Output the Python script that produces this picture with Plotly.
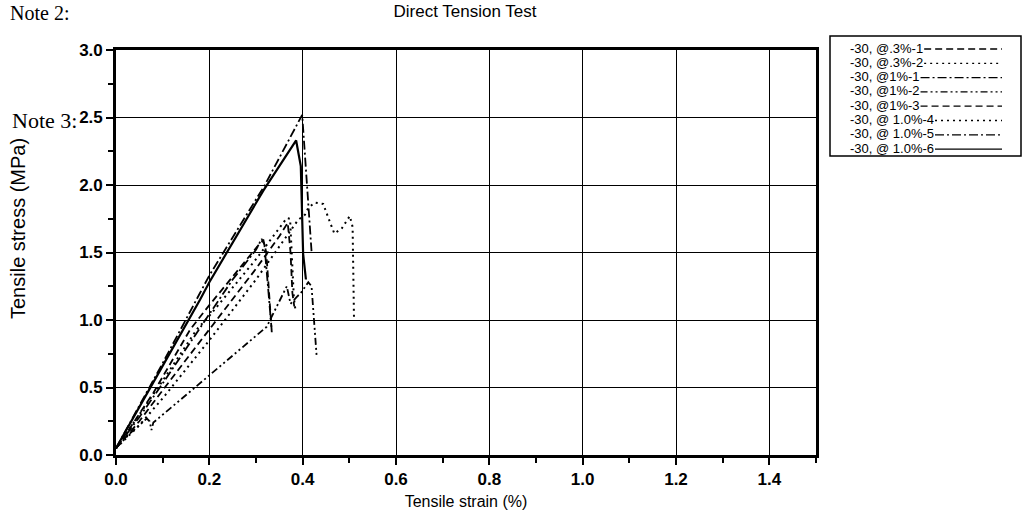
import plotly.graph_objects as go

# ---------------- data ----------------
names = ["-30, @.3%-1", "-30, @.3%-2", "-30, @1%-1", "-30, @1%-2",
         "-30, @1%-3", "-30, @ 1.0%-4", "-30, @ 1.0%-5", "-30, @ 1.0%-6"]

x_03_1 = [0, 0.03, 0.08, 0.159, 0.2, 0.26, 0.309, 0.316, 0.322, 0.328, 0.334]
y_03_1 = [0.05, 0.2, 0.46, 0.93, 1.11, 1.36, 1.57, 1.59, 1.5, 1.2, 0.9]

x_03_2 = [0, 0.05, 0.1, 0.173, 0.2, 0.3, 0.366, 0.373, 0.378, 0.381, 0.385]
y_03_2 = [0.05, 0.3, 0.55, 0.93, 1.03, 1.45, 1.755, 1.75, 1.44, 1.17, 1.06]

x_1_1 = [0, 0.05, 0.1, 0.2, 0.25, 0.3, 0.312, 0.318, 0.326, 0.333]
y_1_1 = [0.05, 0.28, 0.53, 1.04, 1.3, 1.52, 1.6, 1.56, 1.25, 0.95]

x_1_2 = [0, 0.03, 0.066, 0.072, 0.076, 0.08, 0.2, 0.323, 0.366, 0.374, 0.387, 0.396, 0.412, 0.419, 0.43]
y_1_2 = [0.05, 0.16, 0.27, 0.25, 0.185, 0.24, 0.59, 0.95, 1.25, 1.12, 1.17, 1.2, 1.28, 1.25, 0.73]

x_1_3 = [0, 0.05, 0.1, 0.2, 0.3, 0.35, 0.368, 0.374, 0.378, 0.382]
y_1_3 = [0.05, 0.25, 0.48, 0.93, 1.38, 1.62, 1.72, 1.5, 1.2, 1.1]

x_1_4 = [0, 0.05, 0.1, 0.2, 0.3, 0.39, 0.405, 0.412, 0.426, 0.444, 0.459, 0.468, 0.484, 0.501, 0.507, 0.51]
y_1_4 = [0.05, 0.22, 0.42, 0.85, 1.3, 1.74, 1.78, 1.83, 1.87, 1.86, 1.72, 1.64, 1.68, 1.77, 1.69, 1.01]

x_1_5 = [0, 0.05, 0.1, 0.18, 0.2, 0.319, 0.399, 0.419]
y_1_5 = [0.05, 0.36, 0.68, 1.2, 1.33, 2.0, 2.52, 1.51]

x_1_6 = [0, 0.05, 0.1, 0.18, 0.2, 0.316, 0.386, 0.396, 0.401, 0.407]
y_1_6 = [0.05, 0.35, 0.66, 1.15, 1.28, 1.96, 2.33, 2.14, 1.49, 1.3]

xs = [x_03_1, x_03_2, x_1_1, x_1_2, x_1_3, x_1_4, x_1_5, x_1_6]
ys = [y_03_1, y_03_2, y_1_1, y_1_2, y_1_3, y_1_4, y_1_5, y_1_6]

x_ticks = [0.0, 0.2, 0.4, 0.6, 0.8, 1.0, 1.2, 1.4]
y_ticks = [0.0, 0.5, 1.0, 1.5, 2.0, 2.5, 3.0]

# ---------------- styles ----------------
dashes = ["7px,4px", "2px,4px", "9px,3px,2px,3px", "7px,3px,2px,3px,2px,3px",
          "7px,4px", "2px,4px", "9px,3px,2px,3px", "solid"]
widths = [1.8, 2.0, 1.8, 1.8, 1.8, 2.0, 1.8, 2.2]

FIG_W, FIG_H = 1025, 519
# plot area in screen pixels: x 116..816, y 50..455
L, T = 116, 50
R = FIG_W - 816
B = FIG_H - 455
PW, PH = FIG_W - L - R, FIG_H - T - B


def px_to_paper_x(px):
    return (px - L) / PW


def py_to_paper_y(py):
    return (FIG_H - B - py) / PH


fig = go.Figure()
for i in range(len(names)):
    fig.add_trace(go.Scatter(x=xs[i], y=ys[i], mode="lines", name=names[i],
                             line=dict(color="black", width=widths[i], dash=dashes[i]),
                             showlegend=False))

axis_common = dict(showgrid=True, gridcolor="black", gridwidth=1.4,
                   showline=True, linecolor="black", linewidth=2.6, mirror=True,
                   ticks="outside", ticklen=7, tickwidth=2, tickcolor="black",
                   zeroline=False,
                   tickfont=dict(family="Liberation Sans, Arial", size=17, color="black", weight="bold"))

fig.update_xaxes(range=[0, 1.5], tickvals=x_ticks,
                 ticktext=[f"{v:.1f}" for v in x_ticks],
                 minor=dict(dtick=0.1, ticks="outside", ticklen=5, tickwidth=2,
                            tickcolor="black", showgrid=False),
                 title=dict(text="Tensile strain (%)", standoff=8,
                            font=dict(family="Liberation Sans, Arial", size=16, color="black")),
                 **axis_common)
fig.update_yaxes(range=[0, 3.0], tickvals=y_ticks,
                 ticktext=[f"{v:.1f}" for v in y_ticks],
                 minor=dict(dtick=0.25, ticks="outside", ticklen=5, tickwidth=2,
                            tickcolor="black", showgrid=False),
                 **axis_common)

annotations = [
    dict(text="Tensile stress (MPa)", textangle=-90, x=px_to_paper_x(18), y=py_to_paper_y(228),
         xref="paper", yref="paper", showarrow=False, xanchor="center", yanchor="middle",
         font=dict(family="Liberation Sans, Arial", size=20, color="black")),
    dict(text="Note 2:", x=px_to_paper_x(8), y=py_to_paper_y(13), xref="paper", yref="paper",
         showarrow=False, xanchor="left", yanchor="middle",
         font=dict(family="Liberation Serif, Times New Roman", size=20, color="black")),
    dict(text="Note 3:", x=px_to_paper_x(10), y=py_to_paper_y(120), xref="paper", yref="paper",
         showarrow=False, xanchor="left", yanchor="middle",
         font=dict(family="Liberation Serif, Times New Roman", size=22, color="black")),
]

# ---------------- custom legend (text left, sample right) ----------------
AW = {'-': 333, '3': 556, '0': 556, ',': 278, ' ': 278, '@': 1015, '.': 278,
      '%': 889, '1': 556, '2': 556, '4': 556, '5': 556, '6': 556}
LEG_FS = 13
shapes = [dict(type="rect", xref="paper", yref="paper",
               x0=px_to_paper_x(830), x1=px_to_paper_x(1021),
               y0=py_to_paper_y(156), y1=py_to_paper_y(36),
               line=dict(color="black", width=1.5), fillcolor="rgba(0,0,0,0)")]
for i, nm in enumerate(names):
    row_y = 48 + 14.3 * i
    tx = 848
    tw = sum(AW.get(c, 556) for c in nm) / 1000 * LEG_FS
    annotations.append(dict(text=nm, x=px_to_paper_x(tx), y=py_to_paper_y(row_y),
                            xref="paper", yref="paper", showarrow=False,
                            xanchor="left", yanchor="middle",
                            font=dict(family="Liberation Sans, Arial", size=LEG_FS, color="black")))
    shapes.append(dict(type="line", xref="paper", yref="paper",
                       x0=px_to_paper_x(tx + tw + 3), x1=px_to_paper_x(1002),
                       y0=py_to_paper_y(row_y + 1), y1=py_to_paper_y(row_y + 1),
                       line=dict(color="black", width=1.3, dash=dashes[i])))

fig.update_layout(
    width=FIG_W, height=FIG_H,
    margin=dict(l=L, r=R, t=T, b=B),
    paper_bgcolor="white", plot_bgcolor="white",
    title=dict(text="Direct Tension Test", x=465 / FIG_W, xanchor="center",
               y=1 - 11 / FIG_H, yanchor="middle",
               font=dict(family="Liberation Sans, Arial", size=17, color="black")),
    annotations=annotations, shapes=shapes,
)

# remove the default page margin so the figure sits at the window's top-left corner
fig.write_html("out.html", config={"displayModeBar": False},
               post_script="document.body.style.margin='0px';")
